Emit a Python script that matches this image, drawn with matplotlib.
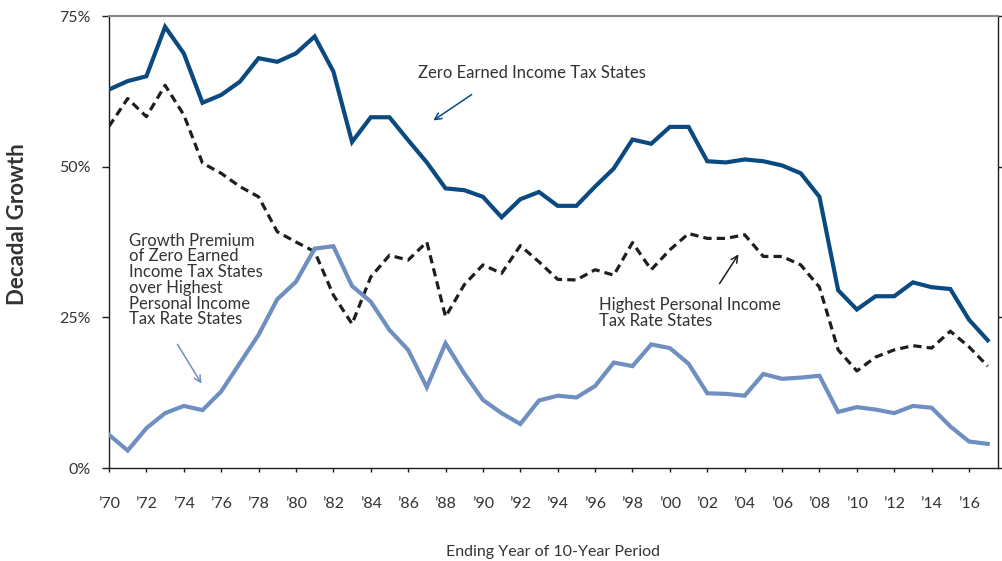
import matplotlib
matplotlib.use("Agg")
import matplotlib.pyplot as plt
import numpy as np

years = list(range(1970, 2018))

zero_tax = [62.8, 64.2, 65.0, 73.2, 68.8, 60.6, 61.9, 64.1, 68.0, 67.4,
            68.8, 71.6, 65.8, 54.1, 58.2, 58.2, 54.4, 50.7, 46.4, 46.1,
            45.0, 41.6, 44.6, 45.8, 43.5, 43.5, 46.7, 49.7, 54.5, 53.8,
            56.6, 56.6, 50.9, 50.7, 51.2, 50.9, 50.2, 48.9, 45.0, 29.5,
            26.3, 28.5, 28.5, 30.8, 30.0, 29.7, 24.6, 21.2]

high_tax = [56.7, 61.3, 58.3, 63.5, 58.6, 50.6, 48.9, 46.7, 45.0, 39.2,
            37.5, 35.9, 28.7, 23.9, 31.7, 35.3, 34.5, 37.5, 25.1, 30.4,
            33.7, 32.3, 36.9, 34.2, 31.3, 31.2, 32.9, 32.0, 37.4, 32.9,
            36.2, 38.9, 38.1, 38.1, 38.7, 35.1, 35.1, 33.7, 30.0, 19.6,
            16.1, 18.4, 19.6, 20.3, 19.9, 22.7, 20.1, 16.9]

premium = [5.5, 2.9, 6.6, 9.1, 10.3, 9.6, 12.7, 17.4, 22.1, 28.0,
           30.9, 36.4, 36.8, 30.2, 27.6, 22.9, 19.6, 13.4, 20.7, 15.7,
           11.3, 9.1, 7.3, 11.2, 12.0, 11.7, 13.6, 17.5, 16.9, 20.5,
           19.9, 17.3, 12.4, 12.3, 12.0, 15.6, 14.8, 15.0, 15.3, 9.3,
           10.1, 9.7, 9.1, 10.3, 10.0, 6.9, 4.4, 4.0]

x_ticks = list(range(1970, 2017, 2))
x_tick_labels = ["\u2019%02d" % (y % 100) for y in x_ticks]
y_ticks = [0, 25, 50, 75]
y_tick_labels = ["0%", "25%", "50%", "75%"]

DARK = "#0a4a80"
LIGHT = "#6f8fc0"
BLACK = "#1e1e1e"
TXT = "#333333"

plt.rcParams['font.family'] = ['Lato', 'DejaVu Sans']

fig = plt.figure(figsize=(10.03, 5.61), dpi=100)
ax = fig.add_axes([109/1003, 1 - 468/561, 889/1003, 452/561])

ax.plot(years, zero_tax, color=DARK, lw=3.0, solid_joinstyle='miter', zorder=3)
ax.plot(years, high_tax, color=BLACK, lw=2.3, dashes=(2.6, 1.6), zorder=2)
ax.plot(years, premium, color=LIGHT, lw=3.0, solid_joinstyle='miter', zorder=3)

ax.set_xlim(1970, 1970 + 889/18.696)
ax.set_ylim(0, 75)

ax.set_xticks(x_ticks, x_tick_labels)
ax.tick_params(axis='x', direction='out', length=3, width=1, color=BLACK, pad=18,
               labelsize=11.5, labelcolor=TXT)
ax.set_yticks(y_ticks, y_tick_labels)
ax.tick_params(axis='y', direction='out', length=5, width=1, color=BLACK, pad=8,
               labelsize=11.5, labelcolor=TXT, right=True, labelright=False)

for side in ['left', 'bottom', 'right']:
    ax.spines[side].set_color(BLACK)
    ax.spines[side].set_linewidth(1.0)
ax.spines['top'].set_color('#888888')
ax.spines['top'].set_linewidth(1.5)

ax.set_ylabel("Decadal Growth", fontsize=16, fontweight='bold', color=TXT)
ax.yaxis.set_label_coords((18 - 109) / 889, 0.5 + (468 - 224 - 226) / 452)
ax.set_xlabel("Ending Year of 10-Year Period", fontsize=11.5, color=TXT)
ax.xaxis.set_label_coords(0.5, (468 - 552) / 452)
ax.xaxis.label.set_va('center')
ax.yaxis.label.set_va('center')

def px(xp, yp):
    # convert figure pixel to data coordinates
    xd = 1970 + (xp - 109) / 18.696
    yd = (468 - yp) / 452 * 75
    return xd, yd

ax.text(*px(418, 73), "Zero Earned Income Tax States", fontsize=12, color=TXT,
        ha='left', va='center')
ax.annotate("", xy=px(431, 122), xytext=px(474, 93),
            arrowprops=dict(arrowstyle='->', color=DARK, lw=1.1, mutation_scale=12))

ax.text(*px(599, 313), "Highest Personal Income\nTax Rate States", fontsize=12,
        color=TXT, ha='left', va='center', linespacing=1.0)
ax.annotate("", xy=px(740, 252), xytext=px(718, 286),
            arrowprops=dict(arrowstyle='->', color=BLACK, lw=1.1, mutation_scale=12))

ax.text(*px(129, 280), "Growth Premium\nof Zero Earned\nIncome Tax States\nover Highest\nPersonal Income\nTax Rate States",
        fontsize=12, color=TXT, ha='left', va='center', linespacing=0.98)
ax.annotate("", xy=px(203, 386), xytext=px(176, 342),
            arrowprops=dict(arrowstyle='->', color=LIGHT, lw=1.1, mutation_scale=12))

fig.savefig("out.png", dpi=100)
